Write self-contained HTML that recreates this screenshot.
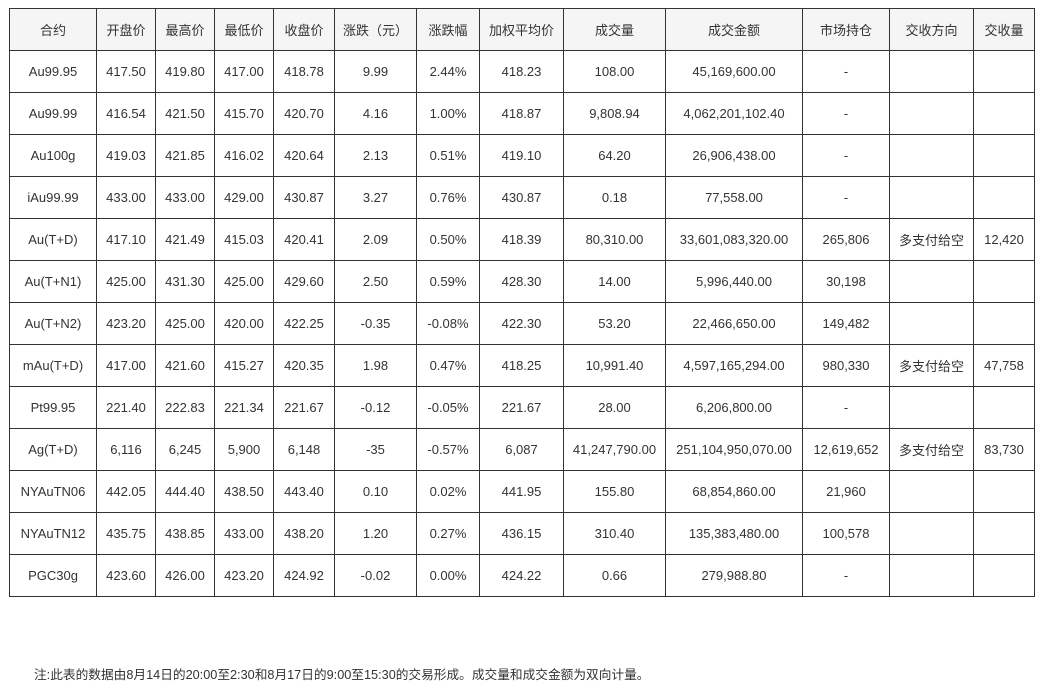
<!DOCTYPE html>
<html><head><meta charset="utf-8">
<style>
body{margin:0;background:#fff;width:1044px;height:689px;overflow:hidden;font-family:"Liberation Sans","Noto Sans CJK SC",sans-serif;color:#333;}
table{position:absolute;left:9px;top:8px;border-collapse:collapse;table-layout:fixed;width:1025px;}
td{border:1px solid #333;height:41px;padding:0;text-align:center;font-size:13px;white-space:nowrap;}
tr:first-child td{background:#f5f5f5;}
.note{position:absolute;left:34px;top:664px;font-size:12.7px;}
</style></head><body>
<table>
<colgroup><col style="width:87px"><col style="width:59px"><col style="width:59px"><col style="width:59px"><col style="width:61px"><col style="width:82px"><col style="width:63px"><col style="width:84px"><col style="width:102px"><col style="width:137px"><col style="width:87px"><col style="width:84px"><col style="width:61px"></colgroup>
<tr><td>合约</td><td>开盘价</td><td>最高价</td><td>最低价</td><td>收盘价</td><td>涨跌（元）</td><td>涨跌幅</td><td>加权平均价</td><td>成交量</td><td>成交金额</td><td>市场持仓</td><td>交收方向</td><td>交收量</td></tr>
<tr><td>Au99.95</td><td>417.50</td><td>419.80</td><td>417.00</td><td>418.78</td><td>9.99</td><td>2.44%</td><td>418.23</td><td>108.00</td><td>45,169,600.00</td><td>-</td><td></td><td></td></tr>
<tr><td>Au99.99</td><td>416.54</td><td>421.50</td><td>415.70</td><td>420.70</td><td>4.16</td><td>1.00%</td><td>418.87</td><td>9,808.94</td><td>4,062,201,102.40</td><td>-</td><td></td><td></td></tr>
<tr><td>Au100g</td><td>419.03</td><td>421.85</td><td>416.02</td><td>420.64</td><td>2.13</td><td>0.51%</td><td>419.10</td><td>64.20</td><td>26,906,438.00</td><td>-</td><td></td><td></td></tr>
<tr><td>iAu99.99</td><td>433.00</td><td>433.00</td><td>429.00</td><td>430.87</td><td>3.27</td><td>0.76%</td><td>430.87</td><td>0.18</td><td>77,558.00</td><td>-</td><td></td><td></td></tr>
<tr><td>Au(T+D)</td><td>417.10</td><td>421.49</td><td>415.03</td><td>420.41</td><td>2.09</td><td>0.50%</td><td>418.39</td><td>80,310.00</td><td>33,601,083,320.00</td><td>265,806</td><td>多支付给空</td><td>12,420</td></tr>
<tr><td>Au(T+N1)</td><td>425.00</td><td>431.30</td><td>425.00</td><td>429.60</td><td>2.50</td><td>0.59%</td><td>428.30</td><td>14.00</td><td>5,996,440.00</td><td>30,198</td><td></td><td></td></tr>
<tr><td>Au(T+N2)</td><td>423.20</td><td>425.00</td><td>420.00</td><td>422.25</td><td>-0.35</td><td>-0.08%</td><td>422.30</td><td>53.20</td><td>22,466,650.00</td><td>149,482</td><td></td><td></td></tr>
<tr><td>mAu(T+D)</td><td>417.00</td><td>421.60</td><td>415.27</td><td>420.35</td><td>1.98</td><td>0.47%</td><td>418.25</td><td>10,991.40</td><td>4,597,165,294.00</td><td>980,330</td><td>多支付给空</td><td>47,758</td></tr>
<tr><td>Pt99.95</td><td>221.40</td><td>222.83</td><td>221.34</td><td>221.67</td><td>-0.12</td><td>-0.05%</td><td>221.67</td><td>28.00</td><td>6,206,800.00</td><td>-</td><td></td><td></td></tr>
<tr><td>Ag(T+D)</td><td>6,116</td><td>6,245</td><td>5,900</td><td>6,148</td><td>-35</td><td>-0.57%</td><td>6,087</td><td>41,247,790.00</td><td>251,104,950,070.00</td><td>12,619,652</td><td>多支付给空</td><td>83,730</td></tr>
<tr><td>NYAuTN06</td><td>442.05</td><td>444.40</td><td>438.50</td><td>443.40</td><td>0.10</td><td>0.02%</td><td>441.95</td><td>155.80</td><td>68,854,860.00</td><td>21,960</td><td></td><td></td></tr>
<tr><td>NYAuTN12</td><td>435.75</td><td>438.85</td><td>433.00</td><td>438.20</td><td>1.20</td><td>0.27%</td><td>436.15</td><td>310.40</td><td>135,383,480.00</td><td>100,578</td><td></td><td></td></tr>
<tr><td>PGC30g</td><td>423.60</td><td>426.00</td><td>423.20</td><td>424.92</td><td>-0.02</td><td>0.00%</td><td>424.22</td><td>0.66</td><td>279,988.80</td><td>-</td><td></td><td></td></tr>
</table>
<div class="note">注:此表的数据由8月14日的20:00至2:30和8月17日的9:00至15:30的交易形成。成交量和成交金额为双向计量。</div>
</body></html>
